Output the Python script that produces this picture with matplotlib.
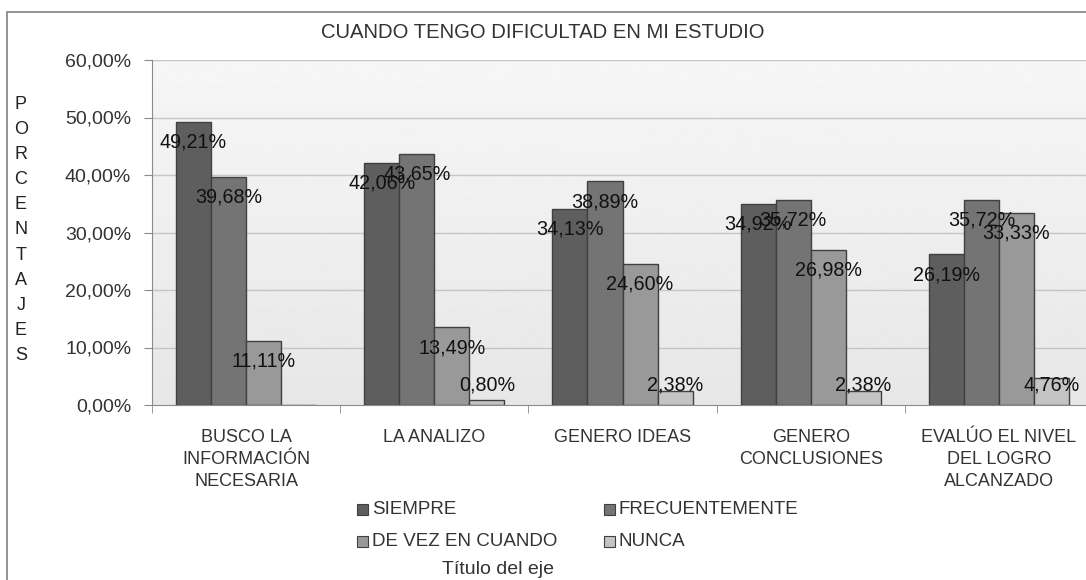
import numpy as np
import matplotlib
matplotlib.use("Agg")
import matplotlib.pyplot as plt
from matplotlib.patches import Rectangle

plt.rcParams["font.family"] = ["Liberation Sans", "DejaVu Sans"]

categories = ["BUSCO LA\nINFORMACIÓN\nNECESARIA", "LA ANALIZO", "GENERO IDEAS",
              "GENERO\nCONCLUSIONES", "EVALÚO EL NIVEL\nDEL LOGRO\nALCANZADO"]
series = ["SIEMPRE", "FRECUENTEMENTE", "DE VEZ EN CUANDO", "NUNCA"]
siempre = [49.21, 42.06, 34.13, 34.92, 26.19]
frecuentemente = [39.68, 43.65, 38.89, 35.72, 35.72]
de_vez = [11.11, 13.49, 24.60, 26.98, 33.33]
nunca = [0.00, 0.80, 2.38, 2.38, 4.76]
values = [siempre, frecuentemente, de_vez, nunca]
colors = ["#5e5e5e", "#747474", "#999999", "#c4c4c4"]
yticks = [0, 10, 20, 30, 40, 50, 60]

W, H = 1086, 580
fig = plt.figure(figsize=(W / 100, H / 100), dpi=100)

def fx(x):
    return x / W

def fy(y):
    return 1 - y / H

# outer chart frame
fig.add_artist(Rectangle((fx(7), fy(H + 20)), 2, fy(12) - fy(H + 20),
               transform=fig.transFigure, fill=False, ec="#8a8a8a", lw=1.3))

ax = fig.add_axes([fx(152), fy(405), fx(1093) - fx(152), fy(60) - fy(405)])
ax.set_xlim(0, 5)
ax.set_ylim(0, 60)

# gradient background
grad = np.linspace(0.965, 0.905, 256).reshape(-1, 1)
ax.imshow(grad, extent=[0, 5, 0, 60], aspect="auto", cmap="gray", vmin=0, vmax=1,
          origin="upper", zorder=0)

for t in yticks[1:]:
    ax.axhline(t, color="#c6c6c6", lw=1, zorder=1)

bw = 35 / 188
x = np.arange(len(categories)) + 0.5
for i, (vals, c) in enumerate(zip(values, colors)):
    xs = x + (i - 1.5) * bw
    ax.bar(xs, vals, bw, color=c, edgecolor="#404040", lw=1, zorder=2)
    for xi, v in zip(xs, vals):
        if v <= 0:
            continue
        ax.text(xi, max(v - 3.5, 3.5), f"{v:.2f}%".replace(".", ","), ha="center",
                va="center", fontsize=14.2, color="#111111", zorder=3)

for s in ["top", "right"]:
    ax.spines[s].set_visible(False)
ax.spines["left"].set_color("#8a8a8a")
ax.spines["bottom"].set_color("#8a8a8a")

ax.set_yticks(yticks)
ax.set_yticklabels([f"{t:.2f}%".replace(".", ",") for t in yticks])
ax.tick_params(axis="y", length=6, color="#8a8a8a", labelsize=14, labelcolor="#333333", pad=9)

ax.set_xticks(x)
ax.set_xticklabels(categories, linespacing=1.4)
ax.tick_params(axis="x", which="major", length=0, labelsize=13, labelcolor="#333333", pad=17)
ax.set_xticks(np.arange(0, 6), minor=True)
ax.tick_params(axis="x", which="minor", length=6, color="#8a8a8a", direction="out")

fig.text(0.5, fy(32), "CUANDO TENGO DIFICULTAD EN MI ESTUDIO", ha="center", va="center",
         fontsize=14.6, color="#333333")
fig.text(fx(21), fy(230), "\n".join("PORCENTAJES"), ha="center", va="center",
         fontsize=13, color="#222222", linespacing=1.62)
fig.text(fx(498), fy(569), "Título del eje", ha="center", va="center", fontsize=14,
         color="#333333")

# legend
leg_pos = [(357, 510), (604, 510), (357, 542), (604, 542)]
for (lx, ly), name, c in zip(leg_pos, series, colors):
    fig.add_artist(Rectangle((fx(lx), fy(ly + 5)), fx(11), fy(0) - fy(11),
                   transform=fig.transFigure, fc=c, ec="#404040", lw=0.8))
    fig.text(fx(lx + 15), fy(ly), name, ha="left", va="center", fontsize=13.5, color="#333333")

fig.savefig("out.png", dpi=100, facecolor="white")
